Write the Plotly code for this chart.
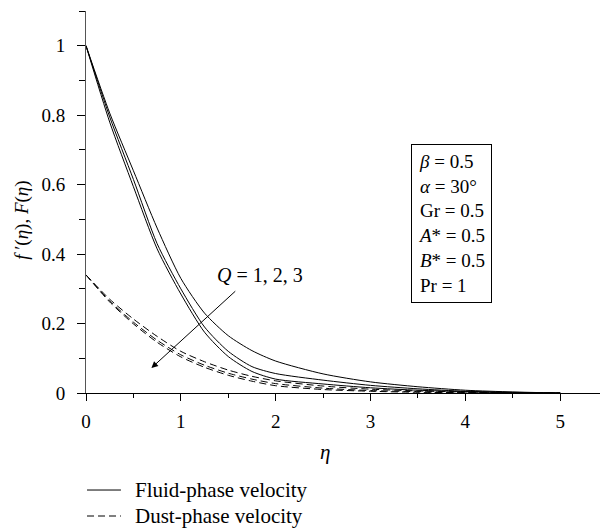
import plotly.graph_objects as go

# eta grid and curve values
eta = [0, 0.25, 0.5, 0.75, 1.0, 1.25, 1.5, 1.75, 2.0, 2.5, 3.0, 3.5, 4.0, 4.5, 5.0]

# fluid-phase velocity f'(eta) for Q = 1, 2, 3
fluid_q1 = [1, 0.806, 0.640, 0.475, 0.330, 0.230, 0.165, 0.122, 0.092, 0.055, 0.032, 0.018, 0.008, 0.003, 0]
fluid_q2 = [1, 0.795, 0.615, 0.430, 0.300, 0.190, 0.120, 0.076, 0.056, 0.037, 0.022, 0.012, 0.005, 0.002, 0]
fluid_q3 = [1, 0.780, 0.594, 0.415, 0.285, 0.175, 0.105, 0.062, 0.040, 0.026, 0.015, 0.008, 0.004, 0.001, 0]

# dust-phase velocity F(eta) for Q = 1, 2, 3
dust_q1 = [0.34, 0.270, 0.213, 0.163, 0.120, 0.090, 0.066, 0.048, 0.035, 0.020, 0.011, 0.006, 0.003, 0.001, 0]
dust_q2 = [0.34, 0.265, 0.204, 0.152, 0.110, 0.080, 0.057, 0.040, 0.027, 0.014, 0.007, 0.004, 0.002, 0.001, 0]
dust_q3 = [0.34, 0.262, 0.199, 0.146, 0.104, 0.074, 0.051, 0.034, 0.021, 0.010, 0.005, 0.002, 0.001, 0.000, 0]

legend_names = ['Fluid-phase velocity', 'Dust-phase velocity']

FONT = "Liberation Serif"
DASH = '7px,4px'

fig = go.Figure()

for ys in [fluid_q1, fluid_q2, fluid_q3]:
    fig.add_trace(go.Scatter(x=eta, y=ys, mode='lines', showlegend=False,
                             line=dict(color='black', width=1, shape='spline', smoothing=0.7)))

for ys in [dust_q1, dust_q2, dust_q3]:
    fig.add_trace(go.Scatter(x=eta, y=ys, mode='lines', showlegend=False,
                             line=dict(color='black', width=1, dash=DASH, shape='spline', smoothing=0.7)))

# parameter box
fig.add_annotation(x=3.85, y=0.489, xref='x', yref='y', showarrow=False,
                   text='<i>β</i> = 0.5<br><i>α</i> = 30°<br>Gr = 0.5<br><i>A</i>* = 0.5<br><i>B</i>* = 0.5<br>Pr = 1',
                   align='left', xanchor='center', yanchor='middle',
                   bordercolor='black', borderwidth=1, borderpad=6,
                   font=dict(family=FONT, size=19, color='black'))

# arrow showing increasing Q
fig.add_annotation(x=0.69, y=0.072, ax=1.59, ay=0.297, xref='x', yref='y', axref='x', ayref='y',
                   text='', showarrow=True, arrowhead=2, arrowsize=1.3, arrowwidth=1, arrowcolor='black')
fig.add_annotation(x=1.835, y=0.34, xref='x', yref='y', showarrow=False,
                   text='<i>Q</i> = 1, 2, 3', font=dict(family=FONT, size=20, color='black'))

# axis titles
fig.add_annotation(x=2.52, y=-0.19, xref='x', yref='paper', showarrow=False,
                   text='<i>η</i>', font=dict(family=FONT, size=21, color='black'))
fig.add_annotation(x=-0.15, y=0.453, xref='paper', yref='paper', showarrow=False, textangle=-90,
                   text="<i>f</i> ′(<i>η</i>), <i>F</i>(<i>η</i>)", font=dict(family=FONT, size=19, color='black'))

# legend below the plot, drawn by hand so it is not clipped
for name, dash, ly in zip(legend_names, ['solid', DASH], [-0.254, -0.322]):
    fig.add_shape(type='line', xref='paper', yref='paper', x0=0.002, x1=0.068, y0=ly, y1=ly,
                  line=dict(color='black', width=1, dash=dash))
    fig.add_annotation(x=0.091, y=ly, xref='paper', yref='paper', showarrow=False,
                       xanchor='left', yanchor='middle', text=name,
                       font=dict(family=FONT, size=21, color='black'))

fig.update_xaxes(range=[0, 5.42], tickvals=[0, 1, 2, 3, 4, 5], ticks='outside', ticklen=7,
                 tickcolor='black', showline=True, linecolor='black', linewidth=1,
                 showgrid=False, zeroline=False, ticklabelstandoff=4,
                 minor=dict(dtick=0.5, ticks='outside', ticklen=4, tickcolor='black'),
                 tickfont=dict(family=FONT, size=19, color='black'))
fig.update_yaxes(range=[0, 1.1], tickvals=[0, 0.2, 0.4, 0.6, 0.8, 1], ticks='outside', ticklen=8,
                 tickcolor='black', showline=True, linecolor='#555', linewidth=1,
                 showgrid=False, zeroline=False, ticklabelstandoff=8,
                 minor=dict(dtick=0.1, ticks='outside', ticklen=6, tickcolor='black'),
                 tickfont=dict(family=FONT, size=19, color='black'))

fig.update_layout(width=600, height=529, plot_bgcolor='white', paper_bgcolor='white',
                  margin=dict(l=86, r=0, t=11, b=136, autoexpand=False),
                  font=dict(family=FONT, size=18, color='black'), showlegend=False)

fig.write_html("out.html", config={'displayModeBar': False},
               post_script="document.body.style.margin='0';")
